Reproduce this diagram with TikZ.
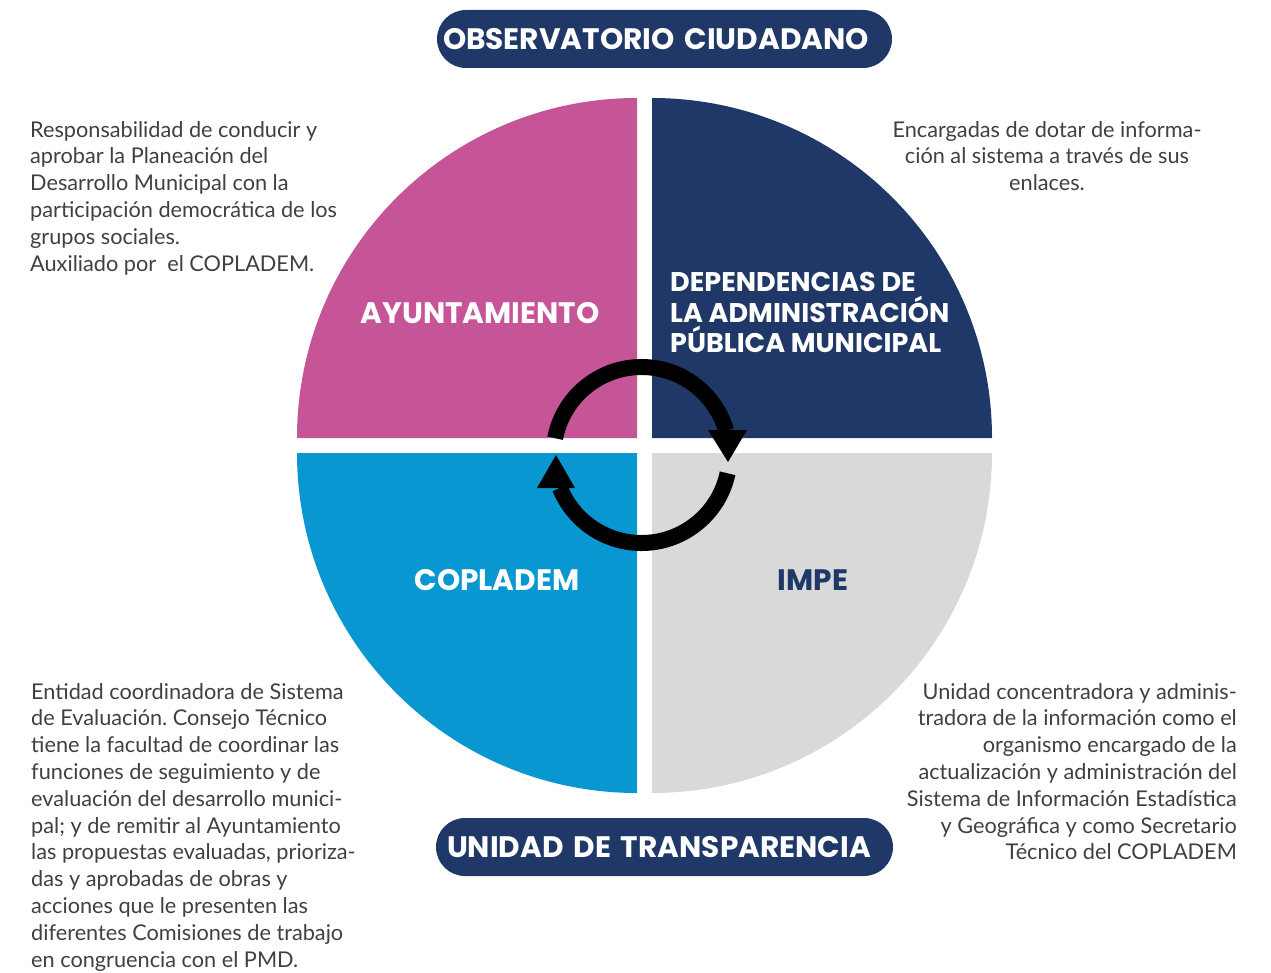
\documentclass[tikz,border=0pt]{standalone}
\usepackage{fontspec}
\setmainfont{Lato}
\newfontfamily\headfont{Poppins}
\frenchspacing
\definecolor{pinkq}{RGB}{197,85,151}
\definecolor{navyq}{RGB}{31,56,104}
\definecolor{blueq}{RGB}{9,151,210}
\definecolor{grayq}{RGB}{217,217,217}
\definecolor{bodytxt}{RGB}{64,64,64}
\tikzset{
  quad/.style={draw=none},
  bodytext/.style={inner sep=0pt, text=bodytxt, font=\fontsize{21.7}{26.8}\selectfont},
  headtext/.style={inner sep=0pt, text=white, font=\headfont\bfseries\fontsize{29.6}{30.6}\selectfont},
  deptext/.style={inner sep=0pt, text=white, font=\headfont\bfseries\fontsize{27}{30.6}\selectfont},
  pill/.style={fill=navyq, rounded corners=29pt, minimum height=58pt, text=white,
    font=\headfont\bfseries\fontsize{29.6}{30}\selectfont, align=left, inner ysep=0pt},
  ring/.style={line width=16pt, black},
  tip/.style={fill=black, draw=none}
}
\begin{document}
\begin{tikzpicture}[x=1pt,y=1pt]
\useasboundingbox (0,0) rectangle (1271,-973);
% quadrants
\fill[pinkq] (637,-438) -- (297,-438) arc (180:90:340) -- cycle;
\fill[navyq] (652,-438) -- (652,-98) arc (90:0:340) -- cycle;
\fill[blueq] (637,-453) -- (297,-453) arc (180:270:340) -- cycle;
\fill[grayq] (652,-453) -- (992,-453) arc (0:-90:340) -- cycle;
% quadrant labels
\node[headtext] (ayu) at (480,-313) {AYUNTAMIENTO};
\node[deptext, anchor=north west, align=left] (dep) at (670,-272)
  {DEPENDENCIAS DE\\LA ADMINISTRACIÓN\\PÚBLICA MUNICIPAL};
\node[headtext] (cop) at (497,-580) {COPLADEM};
\node[headtext, text=navyq] (impe) at (813,-580) {IMPE};
% ring arrows
\coordinate (c) at (641.5,-455);
\draw[ring] (c) ++(169:88) arc (169:16:88);
\fill[tip] (708,-430) -- (747,-430) -- (728,-462) -- cycle;
\draw[ring] (c) ++(-12:88) arc (-12:-158:88);
\fill[tip] (537,-488) -- (575,-488) -- (556,-455) -- cycle;
% pills
\node[pill, text width=443pt, inner xsep=6pt] (obs) at (664.5,-39) {OBSERVATORIO CIUDADANO};
\node[pill, text width=435pt, inner xsep=11pt] (uni) at (664.5,-847) {UNIDAD DE TRANSPARENCIA};
% descriptions
\node[bodytext, anchor=north west, align=left] (dA) at (30,-121)
  {Responsabilidad de conducir y\\aprobar la Planeación del\\Desarrollo Municipal con la\\participación democrática de los\\grupos sociales.\\Auxiliado por \ el COPLADEM.};
\node[bodytext, anchor=north, align=center] (dD) at (1047,-121)
  {Encargadas de dotar de informa-\\ción al sistema a través de sus\\enlaces.};
\node[bodytext, anchor=north west, align=left] (dC) at (31,-683)
  {Entidad coordinadora de Sistema\\de Evaluación. Consejo Técnico\\tiene la facultad de coordinar las\\funciones de seguimiento y de\\evaluación del desarrollo munici-\\pal; y de remitir al Ayuntamiento\\las propuestas evaluadas, prioriza-\\das y aprobadas de obras y\\acciones que le presenten las\\diferentes Comisiones de trabajo\\en congruencia con el PMD.};
\node[bodytext, anchor=north east, align=right] (dI) at (1237,-683)
  {Unidad concentradora y adminis-\\tradora de la información como el\\organismo encargado de la\\actualización y administración del\\Sistema de Información Estadística\\y Geográfica y como Secretario\\Técnico del COPLADEM};
\end{tikzpicture}
\end{document}
